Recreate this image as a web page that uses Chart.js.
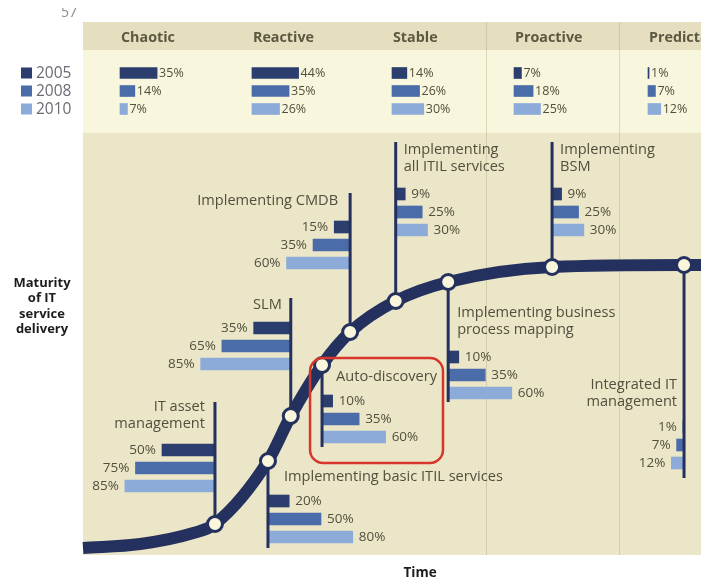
<!DOCTYPE html>
<html><head><meta charset="utf-8">
<script src="https://cdn.jsdelivr.net/npm/chart.js@4.4.1/dist/chart.umd.min.js"></script>
<style>html,body{margin:0;padding:0;background:#fff;}canvas{display:block;}</style>
</head><body>
<canvas id="c" width="701" height="579"></canvas>
<script>
// ---------------- data ----------------
const years = ['2005', '2008', '2010'];
const stages = ['Chaotic', 'Reactive', 'Stable', 'Proactive', 'Predictable'];
const stage2005 = [35, 44, 14, 7, 1];
const stage2008 = [14, 35, 26, 18, 7];
const stage2010 = [7, 26, 30, 25, 12];
const initiatives = ['IT asset management', 'Implementing basic ITIL services', 'SLM', 'Auto-discovery',
  'Implementing CMDB', 'Implementing all ITIL services', 'Implementing business process mapping',
  'Implementing BSM', 'Integrated IT management'];
const init2005 = [50, 20, 35, 10, 15, 9, 10, 9, 1];
const init2008 = [75, 50, 65, 35, 35, 25, 35, 25, 7];
const init2010 = [85, 80, 85, 60, 60, 30, 60, 30, 12];
// maturity S-curve (time, maturity)
const curveTime = [0, 54, 104, 124.5, 174.5, 196, 225.5, 252, 295, 344.5, 442.5, 567, 583];
const curveMaturity = [7, 11, 22, 31, 94, 139, 190, 223, 254, 273, 288, 290, 290];
const nodeIndex = [3, 4, 5, 6, 7, 8, 9, 10, 11]; // curve point of each initiative
const xAxisTitle = 'Time';
const yAxisTitle = ['Maturity', 'of IT', 'service', 'delivery'];
const highlighted = 3; // Auto-discovery

// ---------------- layout (scale units) ----------------
const labelLines = [['IT asset', 'management'], ['Implementing basic ITIL services'], ['SLM'], ['Auto-discovery'],
  ['Implementing CMDB'], ['Implementing', 'all ITIL services'], ['Implementing business', 'process mapping'],
  ['Implementing', 'BSM'], ['Integrated IT', 'management']];
const stemEnd = [153, 7, 257, 108, 362, 413, 153, 413, 77];
const barDir = [-1, 1, -1, 1, -1, 1, 1, 1, -1];
const firstRow = [105, 54, 227, 154, 328, 361, 198, 361, 128];
const rowStep = 18;
const labelDx = [-10, 16, -9, 14, -12, 8, 9, 8, -7];
const labelY = [148, 78, 250, 178, 354, 405, 242, 405, 170];
const stageStart = [34.9, 159.4, 291.5, 406.6, 533];
const stageRows = [482, 464, 446];
const stageLabelY = 517;
const dividers = [380.2, 505.7];
const bands = [[533, 505, '#e6dfbf'], [505, 422, '#f8f6dc'], [422, 0, '#ece6c8']];
const highlightBox = { x0: 214.2, x1: 339.6, y0: 92, y1: 197 };

// ---------------- styles ----------------
const navy = '#24315e';
const yearColors = ['#2b3e6d', '#4a6ca9', '#8dabd9'];
const textColor = '#514f3d';
const FONT = '"Open Sans", "Noto Sans", sans-serif';

const initVals = [init2005, init2008, init2010];
const stageVals = [stage2005, stage2008, stage2010];

function initBars(k) {
  return initiatives.map((_, i) => {
    const sx = curveTime[nodeIndex[i]];
    const v = initVals[k][i];
    return { x: barDir[i] < 0 ? [sx - v, sx] : [sx, sx + v], y: firstRow[i] - k * rowStep };
  });
}
function stageBars(k) {
  return stages.map((_, j) => ({ x: [stageStart[j], stageStart[j] + stageVals[k][j]], y: stageRows[k] }));
}
const stemData = [];
initiatives.forEach((_, i) => {
  const n = nodeIndex[i];
  stemData.push({ x: curveTime[n], y: curveMaturity[n] }, { x: curveTime[n], y: stemEnd[i] }, { x: curveTime[n], y: null });
});

const datasets = [];
datasets.push({
  type: 'line', label: 'Maturity curve', order: 0,
  data: curveTime.map((t, i) => ({ x: t, y: curveMaturity[i] })),
  borderColor: navy, borderWidth: 12, borderCapStyle: 'butt',
  cubicInterpolationMode: 'monotone',
  pointRadius: curveTime.map((_, i) => nodeIndex.includes(i) ? 7.5 : 0),
  pointBackgroundColor: '#f9f6dc', pointBorderColor: navy, pointBorderWidth: 3,
  clip: false
});
datasets.push({
  type: 'line', label: 'stems', order: 1, data: stemData,
  borderColor: navy, borderWidth: 3, pointRadius: 0, spanGaps: false, borderCapStyle: 'butt'
});
years.forEach((yr, k) => {
  datasets.push({ type: 'bar', label: yr, order: 2, indexAxis: 'y', grouped: false, data: initBars(k),
    backgroundColor: yearColors[k], barThickness: 12, borderWidth: 0 });
  datasets.push({ type: 'bar', label: yr + ' stage', order: 2, indexAxis: 'y', grouped: false, data: stageBars(k),
    backgroundColor: yearColors[k], barThickness: 11, borderWidth: 0 });
});

const bgPlugin = {
  id: 'bg',
  beforeDraw(chart) {
    const { ctx, chartArea: ca, scales: { y } } = chart;
    ctx.save();
    ctx.fillStyle = '#fff';
    ctx.fillRect(0, 0, chart.width, chart.height);
    bands.forEach(([a, b, c]) => {
      const ya = y.getPixelForValue(a), yb = y.getPixelForValue(b);
      ctx.fillStyle = c;
      ctx.fillRect(ca.left, ya, ca.right - ca.left, yb - ya);
    });
    ctx.restore();
  }
};

const textPlugin = {
  id: 'texts',
  afterDatasetsDraw(chart) {
    const { ctx, chartArea: ca, scales: { x, y } } = chart;
    ctx.save();
    ctx.textBaseline = 'middle';
    // stage headers
    ctx.fillStyle = '#5b5942';
    ctx.font = 'bold 14.3px ' + FONT;
    ctx.textAlign = 'left';
    stages.forEach((s, j) => ctx.fillText(s, x.getPixelForValue(stageStart[j]) + 1, y.getPixelForValue(stageLabelY)));
    // stage percents
    ctx.font = '12.5px ' + FONT;
    ctx.fillStyle = textColor;
    stageVals.forEach((vals, k) => vals.forEach((v, j) => {
      ctx.fillText(v + '%', x.getPixelForValue(stageStart[j] + v) + 2, y.getPixelForValue(stageRows[k]) + 0.5);
    }));
    // legend
    ctx.font = '15.5px ' + FONT;
    years.forEach((yr, k) => {
      const py = y.getPixelForValue(stageRows[k]);
      ctx.fillStyle = yearColors[k];
      ctx.fillRect(ca.left - 62, py - 5.5, 11, 11);
      ctx.fillStyle = '#6a6c74';
      ctx.fillText(yr, ca.left - 47, py + 0.5);
    });
    // initiative labels
    ctx.font = '14.6px ' + FONT;
    ctx.fillStyle = textColor;
    initiatives.forEach((_, i) => {
      const sx = x.getPixelForValue(curveTime[nodeIndex[i]]);
      const alignRight = labelDx[i] < 0;
      ctx.textAlign = alignRight ? 'right' : 'left';
      labelLines[i].forEach((line, l) => {
        ctx.fillText(line, sx + labelDx[i], y.getPixelForValue(labelY[i]) + l * 16.5);
      });
    });
    // initiative percents
    ctx.font = '13.5px ' + FONT;
    initVals.forEach((vals, k) => vals.forEach((v, i) => {
      const sx = curveTime[nodeIndex[i]];
      const end = x.getPixelForValue(sx + barDir[i] * v);
      ctx.textAlign = barDir[i] < 0 ? 'right' : 'left';
      ctx.fillText(v + '%', end + barDir[i] * 6, y.getPixelForValue(firstRow[i] - k * rowStep) + 0.5);
    }));
    // highlight box
    ctx.strokeStyle = '#d8352b';
    ctx.lineWidth = 2.5;
    ctx.beginPath();
    const bx0 = x.getPixelForValue(highlightBox.x0), bx1 = x.getPixelForValue(highlightBox.x1);
    const by0 = y.getPixelForValue(highlightBox.y1), by1 = y.getPixelForValue(highlightBox.y0);
    ctx.roundRect(bx0, by0, bx1 - bx0, by1 - by0, 13);
    ctx.stroke();
    // axis titles
    ctx.fillStyle = '#1c1c1c';
    ctx.font = 'bold 13px ' + FONT;
    ctx.textAlign = 'center';
    const ty = y.getPixelForValue(272);
    yAxisTitle.forEach((line, l) => ctx.fillText(line, ca.left - 41, ty + l * 15.5));
    ctx.font = 'bold 13.5px ' + FONT;
    ctx.fillText(xAxisTitle, x.getPixelForValue(318), ca.bottom + 18);
    // page mark fragment
    ctx.save();
    ctx.beginPath(); ctx.rect(0, 8, 90, 20); ctx.clip();
    ctx.fillStyle = '#8a8a8a';
    ctx.font = '14px ' + FONT;
    ctx.textAlign = 'left';
    ctx.textBaseline = 'alphabetic';
    ctx.fillText('57', 61, 17);
    ctx.restore();
    ctx.restore();
  }
};

new Chart(document.getElementById('c'), {
  type: 'bar',
  data: { datasets },
  options: {
    responsive: false,
    animation: false,
    events: [],
    layout: { padding: { left: 83, top: 22, right: 0, bottom: 24 } },
    plugins: { legend: { display: false }, tooltip: { enabled: false } },
    scales: {
      x: {
        type: 'linear', min: 0, max: 583, offset: false,
        display: true,
        afterBuildTicks: (s) => { s.ticks = dividers.map(v => ({ value: v })); },
        ticks: { display: false },
        grid: { display: true, drawTicks: false, offset: false, color: 'rgba(150,140,100,0.28)', lineWidth: 1 },
        border: { display: false }
      },
      y: { type: 'linear', min: 0, max: 533, offset: false, display: false }
    }
  },
  plugins: [bgPlugin, textPlugin]
});
</script>
</body></html>
